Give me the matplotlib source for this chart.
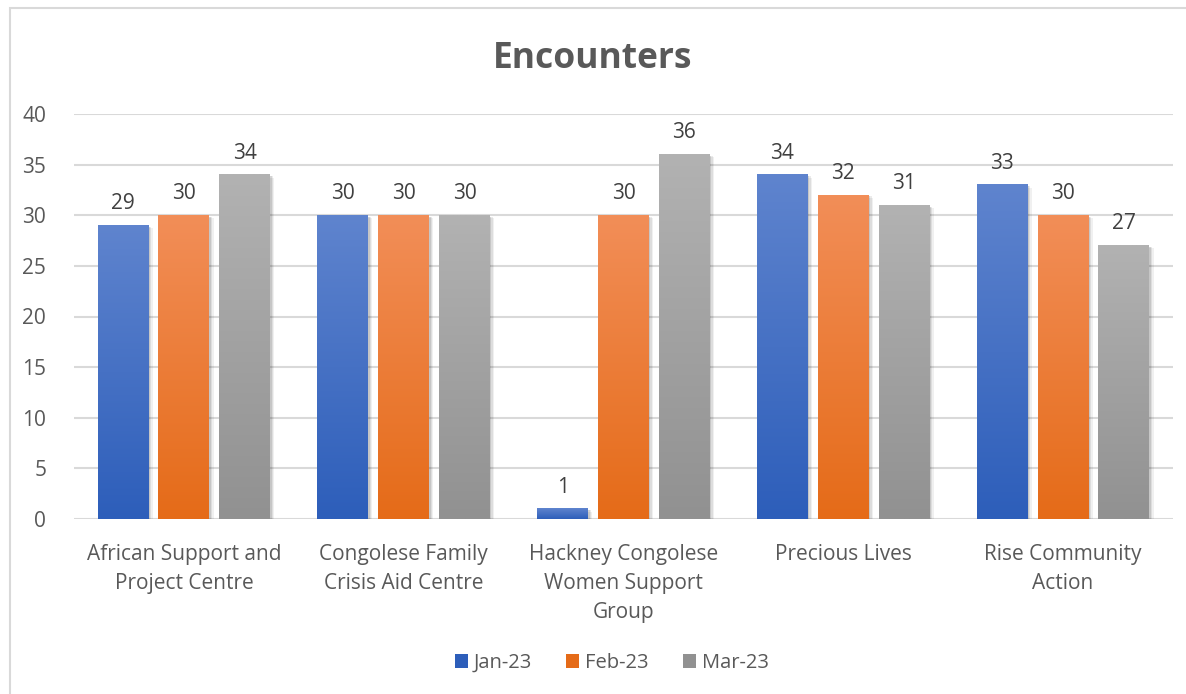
import numpy as np
import matplotlib
matplotlib.use("Agg")
import matplotlib.pyplot as plt
from matplotlib.patches import Rectangle
from matplotlib.colors import LinearSegmentedColormap
import matplotlib.patheffects as pe

plt.rcParams['font.family'] = ['Open Sans', 'DejaVu Sans']

categories = ["African Support and\nProject Centre", "Congolese Family\nCrisis Aid Centre",
              "Hackney Congolese\nWomen Support\nGroup", "Precious Lives", "Rise Community\nAction"]
series = ["Jan-23", "Feb-23", "Mar-23"]
jan = [29, 30, 1, 34, 33]
feb = [30, 30, 30, 32, 30]
mar = [34, 30, 36, 31, 27]
values = [jan, feb, mar]
yticks = [0, 5, 10, 15, 20, 25, 30, 35, 40]

# (top colour, bottom colour) per series
grads = [("#5F84CE", "#2D5EBA"), ("#F28E58", "#E56B18"), ("#B2B2B2", "#919191")]
text_col = "#595959"
grid_col = "#D9D9D9"
fs = 15

fig = plt.figure(figsize=(11.86, 6.94), dpi=100)
fig.patches.append(Rectangle((10 / 1186, -0.1), 1.2, 1 - 8 / 694 + 0.1, transform=fig.transFigure,
                             fill=False, edgecolor=grid_col, lw=1.5, figure=fig))
ax = fig.add_axes([74 / 1186, 175 / 694, 1099 / 1186, 405 / 694])

x = np.arange(len(categories))
step = 0.277
width = 0.232

for i, vals in enumerate(values):
    top, bot = grads[i]
    cmap = LinearSegmentedColormap.from_list("g%d" % i, [bot, top])
    for j, v in enumerate(vals):
        xc = x[j] + (i - 1) * step
        x0 = xc - width / 2
        # soft shadow
        sh = Rectangle((x0, 0), width, v, facecolor="none", edgecolor="none", zorder=2,
                       path_effects=[pe.SimplePatchShadow(offset=(3, -2), shadow_rgbFace="#000000", alpha=0.06),
                                     pe.SimplePatchShadow(offset=(2, -1), shadow_rgbFace="#000000", alpha=0.08),
                                     pe.SimplePatchShadow(offset=(1, -1), shadow_rgbFace="#000000", alpha=0.10)])
        ax.add_patch(sh)
        grad = np.linspace(0, 1, 256).reshape(-1, 1)
        ax.imshow(grad, extent=[x0, x0 + width, 0, v], origin="lower", aspect="auto",
                  cmap=cmap, zorder=3, interpolation="bilinear")
        ax.text(xc, v + 1.1, str(v), ha="center", va="bottom", fontsize=fs, color="#404040", zorder=4)

ax.set_xlim(-0.5, len(categories) - 0.5)
ax.set_ylim(0, 40)
ax.set_yticks(yticks)
ax.set_xticks(x)
ax.set_xticklabels(categories, fontsize=fs, color=text_col, linespacing=1.5, va="top")
ax.tick_params(axis="both", length=0, labelsize=fs, labelcolor=text_col)
ax.tick_params(axis="y", pad=20)
ax.tick_params(axis="x", pad=18)
ax.grid(axis="y", color=grid_col, lw=1.5)
ax.set_axisbelow(True)
for s in ax.spines.values():
    s.set_visible(False)

fig.text(0.5, 1 - 59 / 694, "Encounters", ha="center", va="center", fontsize=25.5,
         fontweight="bold", color=text_col)

handles = [Rectangle((0, 0), 1, 1, facecolor=g[1]) for g in grads]
fig.legend(handles, series, loc="center", bbox_to_anchor=(612 / 1186, 1 - 663 / 694), ncol=3,
           frameon=False, fontsize=14.5, labelcolor=text_col, handlelength=0.65, handleheight=0.65,
           handletextpad=0.3, columnspacing=1.7)

fig.savefig("out.png", dpi=100)
